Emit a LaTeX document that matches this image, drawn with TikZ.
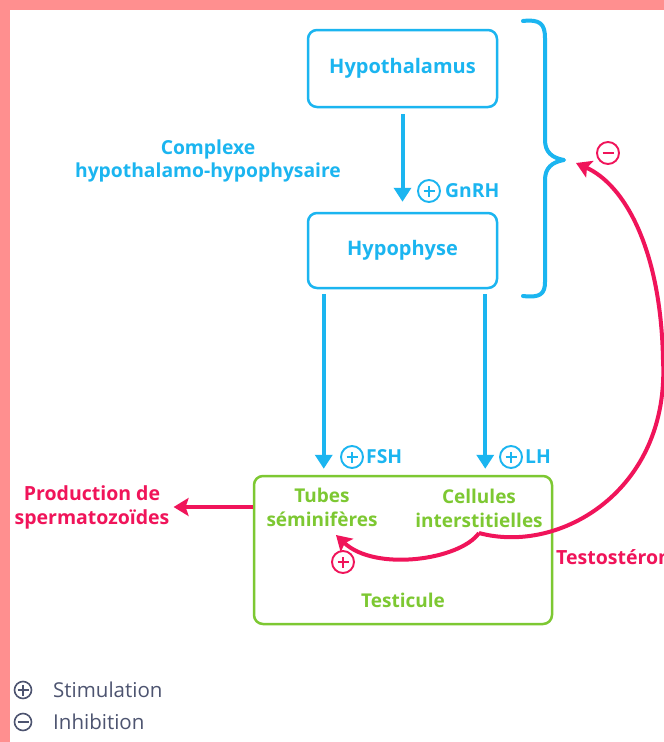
\documentclass[tikz,border=0pt]{standalone}
\usepackage{fontspec}
\setmainfont{Open Sans}
\usetikzlibrary{arrows.meta}
\definecolor{cblue}{HTML}{1BB5F0}
\definecolor{cgreen}{HTML}{7DC832}
\definecolor{cred}{HTML}{F0145A}
\definecolor{cpink}{HTML}{FF8F8F}
\definecolor{cgray}{HTML}{4D5470}
\tikzset{
  bbox/.style={draw=cblue,line width=2.5pt,rounded corners=9pt,text=cblue,font=\bfseries\fontsize{20}{23}\selectfont,minimum width=189pt},
  gtext/.style={text=cgreen,font=\bfseries\fontsize{19}{24}\selectfont,align=center,inner sep=0pt},
  btext/.style={text=cblue,font=\bfseries\fontsize{19.3}{23}\selectfont,align=center,inner sep=0pt},
  rtext/.style={text=cred,font=\bfseries\fontsize{19.5}{24}\selectfont,align=center,inner sep=0pt},
  legtext/.style={text=cgray,font=\fontsize{20.5}{22}\selectfont,anchor=west,inner sep=0pt},
  barrow/.style={draw=cblue,line width=4pt,-{Triangle[length=14pt,width=17pt]}},
  rarrow/.style={draw=cred,line width=4pt,-{Stealth[length=15pt,width=18pt,inset=3pt]}},
  signbase/.style={circle,draw,line width=1.9pt,inner sep=0pt,minimum size=22pt},
  stimsign/.style={signbase,path picture={\draw[line width=1.9pt]
      ([xshift=-5.5pt]path picture bounding box.center) -- ([xshift=5.5pt]path picture bounding box.center)
      ([yshift=-5.5pt]path picture bounding box.center) -- ([yshift=5.5pt]path picture bounding box.center);}},
  inhibsign/.style={signbase,path picture={\draw[line width=1.9pt]
      ([xshift=-5.5pt]path picture bounding box.center) -- ([xshift=5.5pt]path picture bounding box.center);}},
}
\begin{document}
\begin{tikzpicture}[x=1pt,y=-1pt]
\useasboundingbox (0,0) rectangle (664,742);
\fill[white] (0,0) rectangle (664,742);
\fill[cpink] (0,0) rectangle (664,10);
\fill[cpink] (0,0) rectangle (10,742);

% boxes
\node[bbox,minimum height=77pt] (hyp) at (402.5,68.5) {Hypothalamus};
\node[bbox,minimum height=75pt] (hypo) at (402.5,250.5) {Hypophyse};
\node[draw=cgreen,line width=2.5pt,rounded corners=9pt,minimum width=298pt,minimum height=148pt] (test) at (403,550) {};

% labels
\node[btext] (cplx) at (208,160.5) {Complexe\\hypothalamo-hypophysaire};
\node[stimsign,draw=cblue] (sg) at (429,191) {};
\node[btext,anchor=west] (gnrh) at (445,191) {GnRH};

% brace
\draw[cblue,line width=4pt,line cap=round,line join=round]
  (523,21) .. controls (540,19) and (545,24) .. (545,38) -- (545,140)
  .. controls (545,152) and (552,158) .. (564,160)
  .. controls (552,162) and (545,168) .. (545,180) -- (545,282)
  .. controls (545,294) and (540,298) .. (523,296);

% arrows from hypothalamus / hypophyse
\draw[barrow,shorten <=6pt,shorten >=10pt] (hyp.south) -- (hypo.north);
\draw[barrow,shorten <=5pt,shorten >=6pt] ([xshift=17pt]hypo.south west) -- ([xshift=17pt]hypo.south west |- test.north);
\draw[barrow,shorten <=5pt,shorten >=6pt] ([xshift=-13pt]hypo.south east) -- ([xshift=-13pt]hypo.south east |- test.north);

\node[stimsign,draw=cblue] (sf) at (352,457) {};
\node[btext,anchor=west] (fsh) at (366,457) {FSH};
\node[stimsign,draw=cblue] (sl) at (511,457) {};
\node[btext,anchor=west] (lh) at (525,457) {LH};

% testicule contents
\node[gtext] (tubes) at (322,507) {Tubes\\séminifères};
\node[gtext] (cell) at (479,508) {Cellules\\interstitielles};
\node[gtext] (testi) at (403,600) {Testicule};

% production
\node[rtext] (prod) at (92,507) {Production de\\spermatozoïdes};
\draw[rarrow,shorten >=4pt] (tubes.west -| test.west) -- (prod.east);

% testosterone feedback
\coordinate (cusp) at (479,533);
\coordinate (tip) at (576,163);
\coordinate (mid) at (663,360);
\coordinate (tipl) at (336,535);
\draw[rarrow] (cusp) .. controls (560,555) and (670,490) .. (mid)
  .. controls (661,250) and (625,185) .. (tip);
\draw[rarrow] (cusp) .. controls (460,560) and (375,572) .. (tipl);
\node[stimsign,draw=cred] (sr) at (343,562) {};
\node[inhibsign,draw=cred] (ir) at (608,153) {};
\node[rtext,anchor=west] (testo) at (556,557) {Testostérone};

% legend
\node[stimsign,draw=cgray,minimum size=17pt,line width=1.6pt] (ls) at (23,690) {};
\node[legtext] (lst) at (53,690) {Stimulation};
\node[inhibsign,draw=cgray,minimum size=17pt,line width=1.6pt] (li) at (23,722) {};
\node[legtext] (lin) at (53,722) {Inhibition};
\end{tikzpicture}
\end{document}
